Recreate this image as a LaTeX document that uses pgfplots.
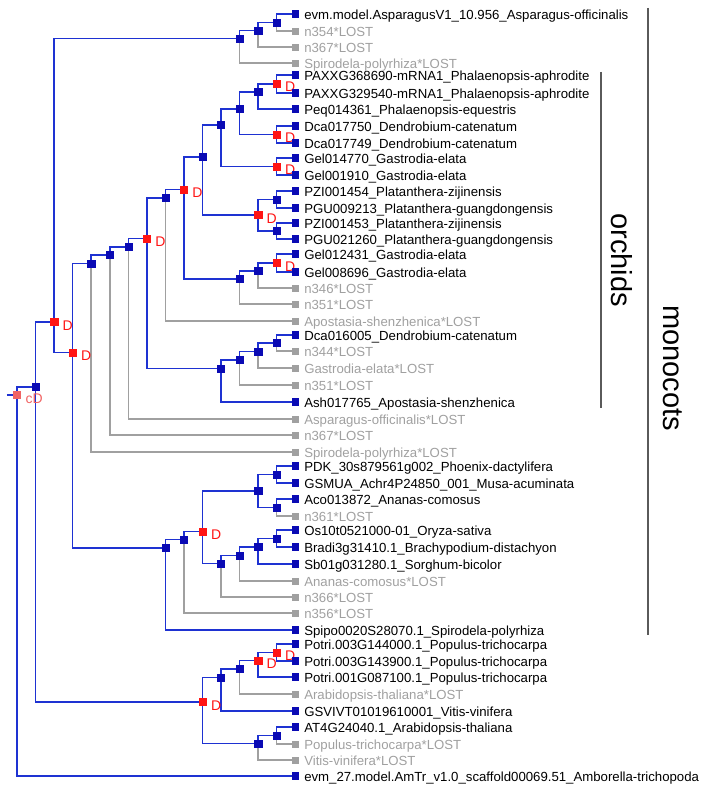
\documentclass[border=0pt]{standalone}
\usepackage{pgfplots}
\pgfplotsset{compat=1.18}
\usepackage{fontspec}
\setmainfont{Liberation Sans}
\definecolor{lineblue}{RGB}{30,50,210}
\definecolor{markblue}{RGB}{10,10,180}
\definecolor{lostgray}{RGB}{160,160,160}
\definecolor{dred}{RGB}{255,20,20}
\definecolor{salmon}{RGB}{240,100,100}
\definecolor{bargray}{RGB}{90,90,90}
\pgfplotsset{
  bl/.style={color=lineblue, line width=1.5pt, mark=none},
  gl/.style={color=lostgray, line width=1.5pt, mark=none},
}
% edge: parent depth, child depth, parent y, child y
\newcommand{\Eb}[4]{\addplot[bl] coordinates {(#1,#3) (#1,#4) (#2,#4)};}
\newcommand{\Eg}[4]{\addplot[gl] coordinates {(#1,#3) (#1,#4) (#2,#4)};}
\begin{document}
\begin{tikzpicture}
\begin{axis}[
  hide axis, scale only axis, width=706pt, height=794pt,
  xmin=-0.91644, xmax=37.1429, ymin=0, ymax=794, y dir=reverse,
  clip=false]
% ---- gray edges (lost genes)
\Eg{12}{15}{38.5}{63}
\Eg{13}{15}{30.5}{47}
\Eg{14}{15}{22.5}{31}
\Eg{4}{15}{263.5}{452}
\Eg{5}{15}{255}{435}
\Eg{6}{15}{247}{419}
\Eg{8}{15}{198}{321}
\Eg{12}{15}{279}{304}
\Eg{13}{15}{271}{288}
\Eg{12}{15}{360}{385}
\Eg{13}{15}{351.5}{368}
\Eg{14}{15}{343}{351}
\Eg{9}{15}{539.5}{613}
\Eg{14}{15}{507.5}{516}
\Eg{11}{15}{563.5}{597}
\Eg{12}{15}{555.5}{581}
\Eg{12}{15}{669}{694}
\Eg{13}{15}{743.5}{760}
\Eg{14}{15}{735.5}{744}
% ---- blue edges
\addplot[bl] coordinates {(-0.55,395) (0,395)};
\Eb{0}{1}{395}{387}
\Eb{0}{15}{395}{776}
\Eb{1}{2}{387}{322}
\Eb{1}{10}{387}{702}
\Eb{2}{12}{322}{38.5}
\Eb{2}{3}{322}{352.5}
\Eb{12}{13}{38.5}{30.5}
\Eb{13}{14}{30.5}{22.5}
\Eb{14}{15}{22.5}{14}
\Eb{3}{4}{352.5}{263.5}
\Eb{3}{8}{352.5}{548}
\Eb{4}{5}{263.5}{255}
\Eb{5}{6}{255}{247}
\Eb{6}{7}{247}{238.5}
\Eb{7}{8}{238.5}{198}
\Eb{7}{11}{238.5}{368.5}
\Eb{8}{9}{198}{189.5}
\Eb{9}{10}{189.5}{157}
\Eb{9}{12}{189.5}{279}
\Eb{10}{11}{157}{125}
\Eb{10}{13}{157}{215}
\Eb{11}{12}{125}{109}
\Eb{11}{14}{125}{166.5}
\Eb{12}{13}{109}{92}
\Eb{12}{14}{109}{134.5}
\Eb{13}{14}{92}{84}
\Eb{13}{15}{92}{109}
\Eb{14}{15}{84}{75}
\Eb{14}{15}{84}{93}
\Eb{14}{15}{134.5}{126}
\Eb{14}{15}{134.5}{143}
\Eb{14}{15}{166.5}{158}
\Eb{14}{15}{166.5}{175}
\Eb{13}{14}{215}{199.5}
\Eb{13}{14}{215}{231}
\Eb{14}{15}{199.5}{191}
\Eb{14}{15}{199.5}{208}
\Eb{14}{15}{231}{223}
\Eb{14}{15}{231}{239}
\Eb{12}{13}{279}{271}
\Eb{13}{14}{271}{263}
\Eb{14}{15}{263}{254}
\Eb{14}{15}{263}{272}
\Eb{11}{12}{368.5}{360}
\Eb{11}{15}{368.5}{402}
\Eb{12}{13}{360}{351.5}
\Eb{13}{14}{351.5}{343}
\Eb{14}{15}{343}{335}
\Eb{8}{9}{548}{539.5}
\Eb{8}{15}{548}{630}
\Eb{9}{10}{539.5}{531.5}
\Eb{10}{13}{531.5}{491}
\Eb{10}{11}{531.5}{563.5}
\Eb{13}{14}{491}{474.5}
\Eb{13}{14}{491}{507.5}
\Eb{14}{15}{474.5}{466}
\Eb{14}{15}{474.5}{483}
\Eb{14}{15}{507.5}{499}
\Eb{11}{12}{563.5}{555.5}
\Eb{12}{13}{555.5}{547}
\Eb{13}{14}{547}{538.5}
\Eb{13}{15}{547}{564}
\Eb{14}{15}{538.5}{530}
\Eb{14}{15}{538.5}{547}
\Eb{10}{11}{702}{677.5}
\Eb{10}{13}{702}{743.5}
\Eb{11}{12}{677.5}{669}
\Eb{11}{15}{677.5}{711}
\Eb{12}{13}{669}{660.5}
\Eb{13}{14}{660.5}{652.5}
\Eb{13}{15}{660.5}{677}
\Eb{14}{15}{652.5}{644}
\Eb{14}{15}{652.5}{661}
\Eb{13}{14}{743.5}{735.5}
\Eb{14}{15}{735.5}{727}
% ---- clade bars
\addplot[color=bargray, line width=1.8pt, mark=none] coordinates {(34.016,8) (34.016,635)};
\addplot[color=bargray, line width=1.8pt, mark=none] coordinates {(31.482,72) (31.482,408)};
% ---- internal speciation nodes
\addplot[only marks, mark=square*, mark size=3.6pt, color=markblue] coordinates {
(1,387) (12,38.5) (13,30.5) (14,22.5) (4,263.5) (5,255) (6,247) (8,198)
(10,157) (11,125) (12,109) (13,92) (14,199.5) (14,231) (12,279) (13,271)
(11,368.5) (12,360) (13,351.5) (14,343) (8,548) (9,539.5) (13,491)
(14,474.5) (14,507.5) (11,563.5) (12,555.5) (13,547) (14,538.5)
(11,677.5) (12,669) (13,743.5) (14,735.5)};
% ---- duplication nodes
\addplot[only marks, mark=square*, mark size=3.6pt, color=dred,
  nodes near coords={D},
  every node near coord/.append style={anchor=base west, text=dred,
    font=\fontsize{14}{14}\selectfont, xshift=5pt, yshift=-8pt}]
  coordinates {
(2,322) (3,352.5) (7,238.5) (9,189.5) (13,215) (14,84) (14,134.5)
(14,166.5) (14,263) (10,531.5) (10,702) (13,660.5) (14,652.5)};
% ---- root
\addplot[only marks, mark=square*, mark size=3.6pt, color=salmon,
  nodes near coords={cD},
  every node near coord/.append style={anchor=base west, text=salmon,
    font=\fontsize{14}{14}\selectfont, xshift=5pt, yshift=-8pt}]
  coordinates {(0,395)};
% ---- present genes
\addplot[only marks, mark=square*, mark size=3.4pt, color=markblue,
  point meta=explicit symbolic, nodes near coords,
  every node near coord/.append style={anchor=base west, text=black,
    font=\fontsize{13.2}{14}\selectfont, xshift=5.5pt, yshift=-5.5pt}]
  coordinates {
(15,14) [evm.model.AsparagusV1\_10.956\_Asparagus-officinalis]
(15,75) [PAXXG368690-mRNA1\_Phalaenopsis-aphrodite]
(15,93) [PAXXG329540-mRNA1\_Phalaenopsis-aphrodite]
(15,109) [Peq014361\_Phalaenopsis-equestris]
(15,126) [Dca017750\_Dendrobium-catenatum]
(15,143) [Dca017749\_Dendrobium-catenatum]
(15,158) [Gel014770\_Gastrodia-elata]
(15,175) [Gel001910\_Gastrodia-elata]
(15,191) [PZI001454\_Platanthera-zijinensis]
(15,208) [PGU009213\_Platanthera-guangdongensis]
(15,223) [PZI001453\_Platanthera-zijinensis]
(15,239) [PGU021260\_Platanthera-guangdongensis]
(15,254) [Gel012431\_Gastrodia-elata]
(15,272) [Gel008696\_Gastrodia-elata]
(15,335) [Dca016005\_Dendrobium-catenatum]
(15,402) [Ash017765\_Apostasia-shenzhenica]
(15,466) [PDK\_30s879561g002\_Phoenix-dactylifera]
(15,483) [GSMUA\_Achr4P24850\_001\_Musa-acuminata]
(15,499) [Aco013872\_Ananas-comosus]
(15,530) [Os10t0521000-01\_Oryza-sativa]
(15,547) [Bradi3g31410.1\_Brachypodium-distachyon]
(15,564) [Sb01g031280.1\_Sorghum-bicolor]
(15,630) [Spipo0020S28070.1\_Spirodela-polyrhiza]
(15,644) [Potri.003G144000.1\_Populus-trichocarpa]
(15,661) [Potri.003G143900.1\_Populus-trichocarpa]
(15,677) [Potri.001G087100.1\_Populus-trichocarpa]
(15,711) [GSVIVT01019610001\_Vitis-vinifera]
(15,727) [AT4G24040.1\_Arabidopsis-thaliana]
(15,776) [evm\_27.model.AmTr\_v1.0\_scaffold00069.51\_Amborella-trichopoda]
};
% ---- lost genes
\addplot[only marks, mark=square*, mark size=3pt, color=lostgray,
  point meta=explicit symbolic, nodes near coords,
  every node near coord/.append style={anchor=base west, text=lostgray,
    font=\fontsize{13.2}{14}\selectfont, xshift=5.5pt, yshift=-5.5pt}]
  coordinates {
(15,31) [n354*LOST]
(15,47) [n367*LOST]
(15,63) [Spirodela-polyrhiza*LOST]
(15,288) [n346*LOST]
(15,304) [n351*LOST]
(15,321) [Apostasia-shenzhenica*LOST]
(15,351) [n344*LOST]
(15,368) [Gastrodia-elata*LOST]
(15,385) [n351*LOST]
(15,419) [Asparagus-officinalis*LOST]
(15,435) [n367*LOST]
(15,452) [Spirodela-polyrhiza*LOST]
(15,516) [n361*LOST]
(15,581) [Ananas-comosus*LOST]
(15,597) [n366*LOST]
(15,613) [n356*LOST]
(15,694) [Arabidopsis-thaliana*LOST]
(15,744) [Populus-trichocarpa*LOST]
(15,760) [Vitis-vinifera*LOST]
};
\node[rotate=-90, font=\fontsize{29}{30}\selectfont] at (axis cs:32.615,260) {orchids};
\node[rotate=-90, font=\fontsize{29}{30}\selectfont] at (axis cs:35.364,368) {monocots};
\end{axis}
\pgfresetboundingbox
\path (current axis.south west) rectangle (current axis.north east);
\end{tikzpicture}
\end{document}
